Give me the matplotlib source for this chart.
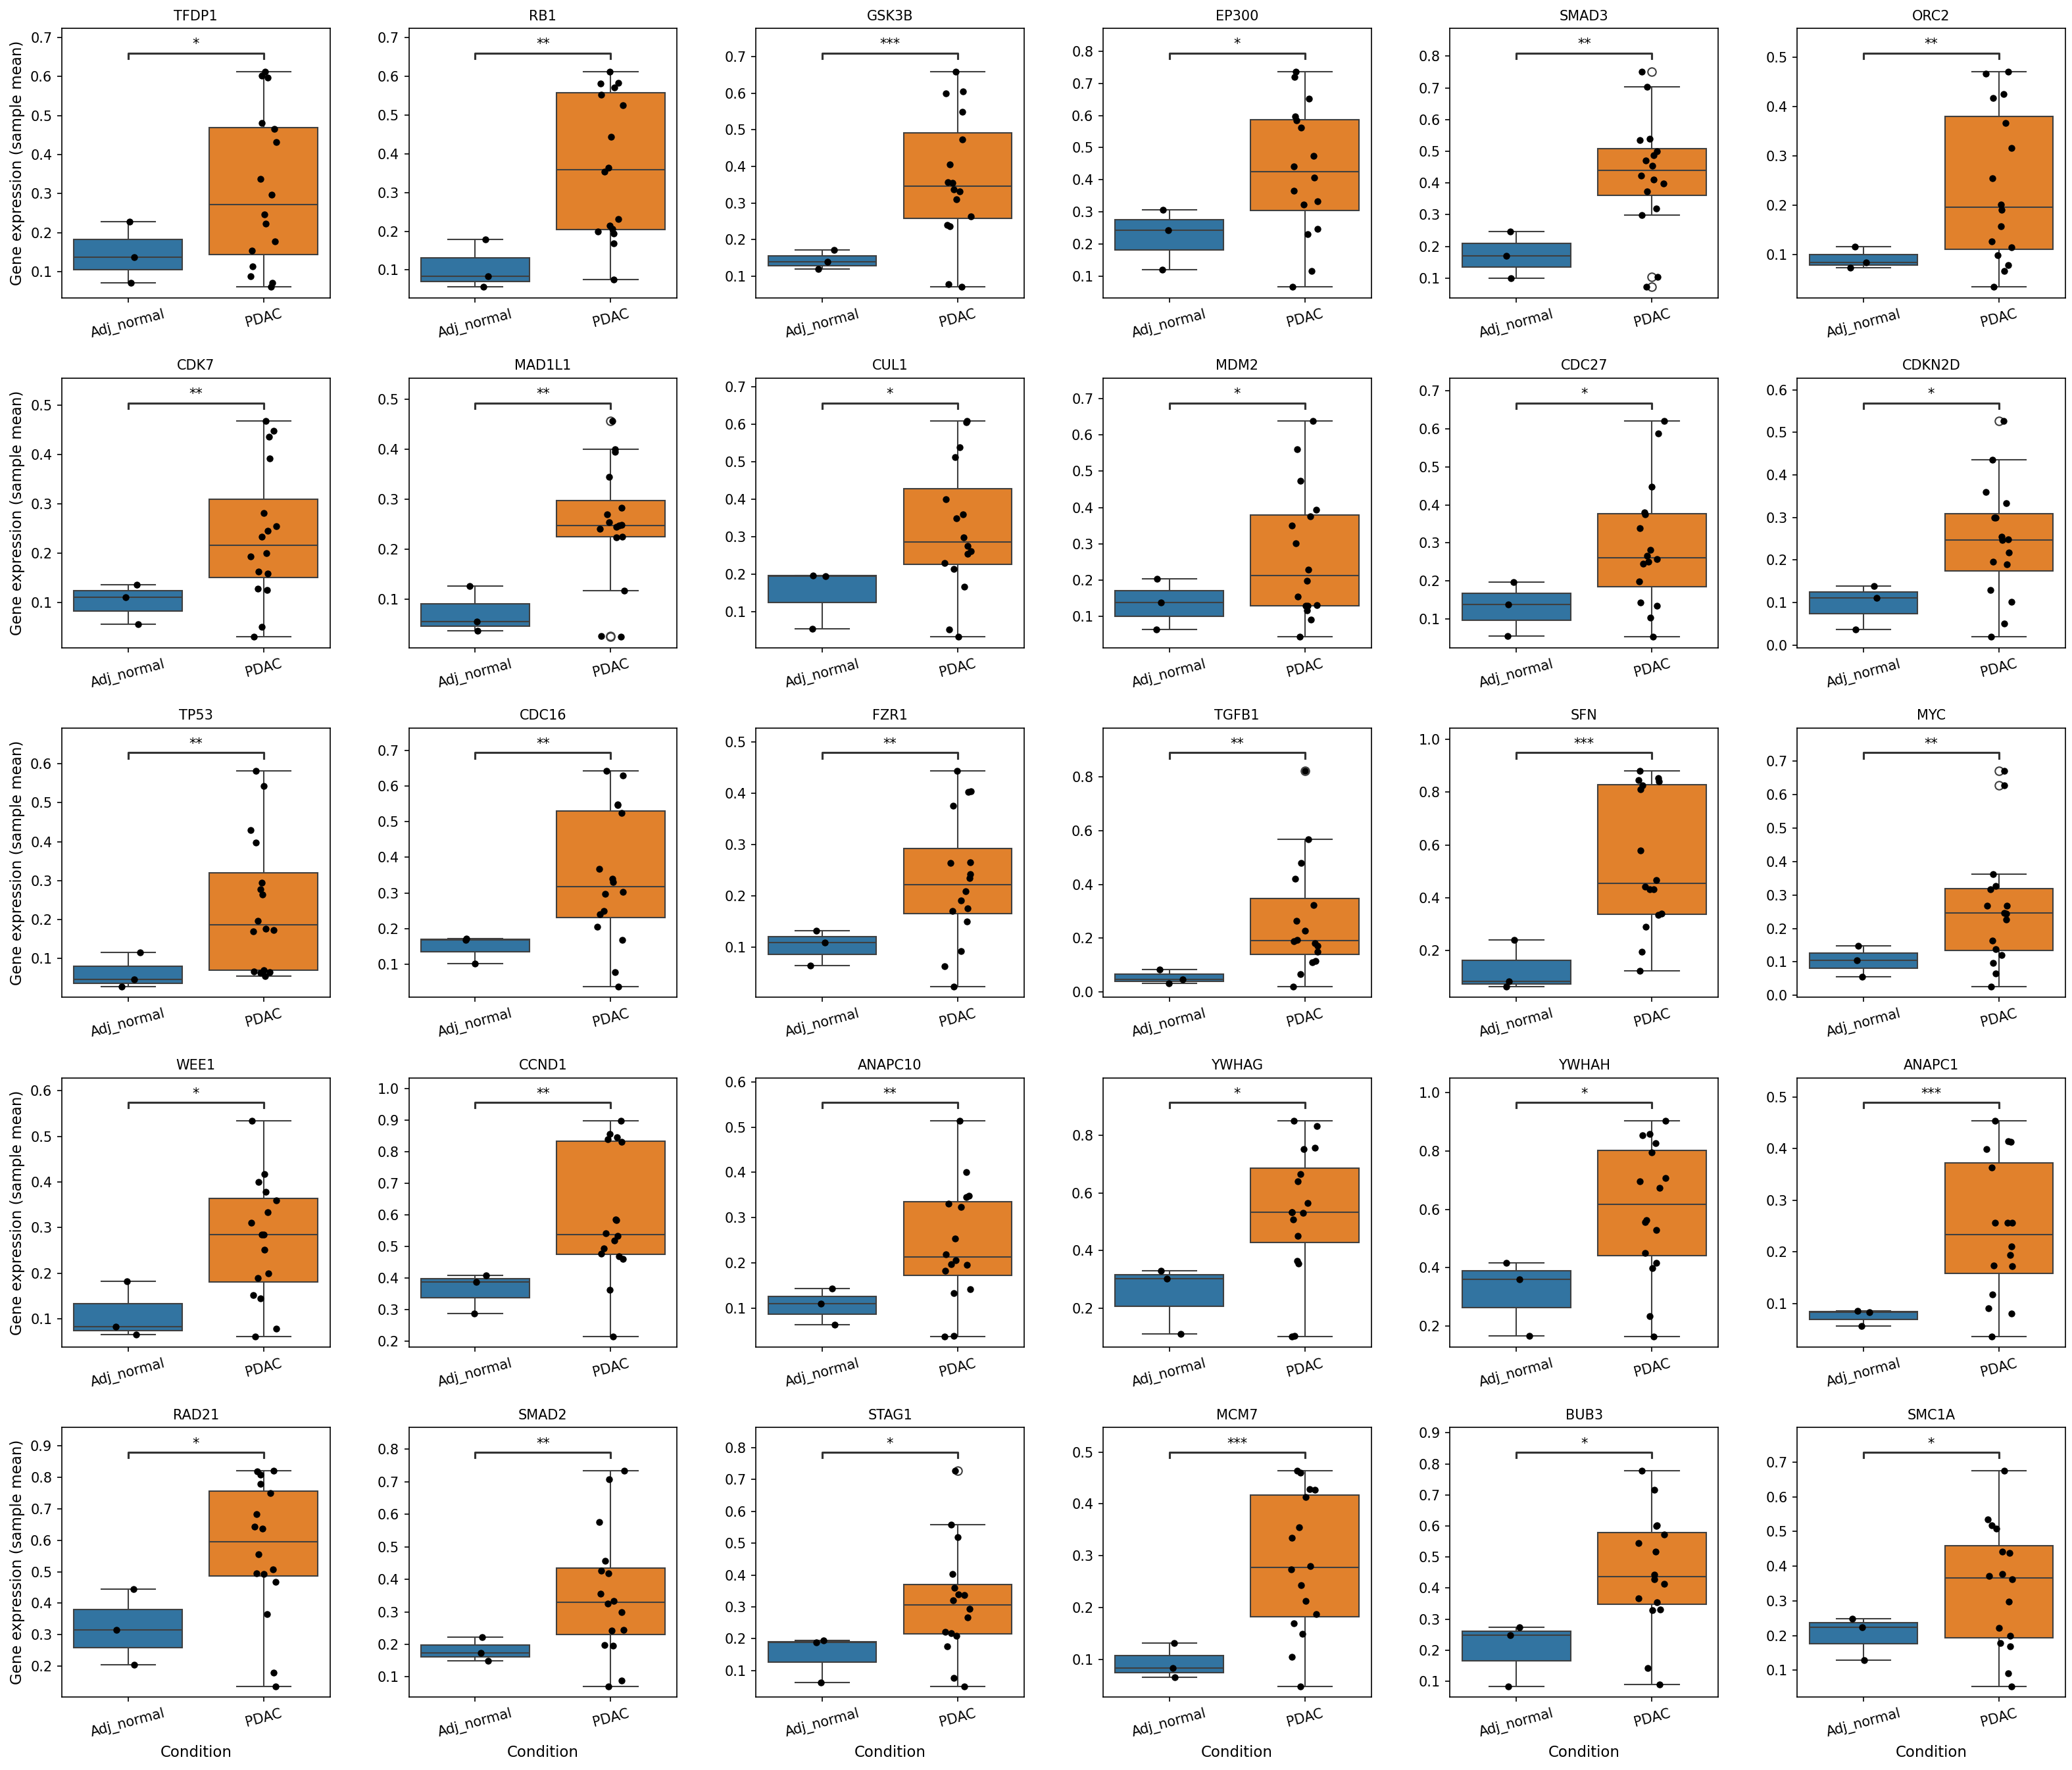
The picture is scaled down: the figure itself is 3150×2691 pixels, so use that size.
import numpy as np
import pandas as pd
import matplotlib
matplotlib.use("Agg")
import matplotlib.pyplot as plt
import seaborn as sns

genes = ["TFDP1", "RB1", "GSK3B", "EP300", "SMAD3", "ORC2",
         "CDK7", "MAD1L1", "CUL1", "MDM2", "CDC27", "CDKN2D",
         "TP53", "CDC16", "FZR1", "TGFB1", "SFN", "MYC",
         "WEE1", "CCND1", "ANAPC10", "YWHAG", "YWHAH", "ANAPC1",
         "RAD21", "SMAD2", "STAG1", "MCM7", "BUB3", "SMC1A"]

stars = ["*", "**", "***", "*", "**", "**",
         "**", "**", "*", "*", "*", "*",
         "**", "**", "**", "**", "***", "**",
         "*", "**", "**", "*", "*", "***",
         "*", "**", "*", "***", "*", "*"]

groups = ["Adj_normal", "PDAC"]

adj_normal = [
    [0.229, 0.138, 0.072], [0.178, 0.083, 0.056], [0.172, 0.139, 0.120],
    [0.307, 0.243, 0.121], [0.248, 0.170, 0.100], [0.116, 0.0835, 0.073],
    [0.137, 0.111, 0.056], [0.126, 0.055, 0.036], [0.197, 0.195, 0.055],
    [0.203, 0.138, 0.063], [0.197, 0.138, 0.055], [0.139, 0.111, 0.036],
    [0.116, 0.046, 0.028], [0.171, 0.169, 0.102], [0.132, 0.109, 0.064],
    [0.084, 0.046, 0.031], [0.241, 0.084, 0.063], [0.148, 0.105, 0.056],
    [0.182, 0.083, 0.065], [0.408, 0.387, 0.287], [0.143, 0.109, 0.063],
    [0.331, 0.303, 0.110], [0.417, 0.360, 0.166], [0.085, 0.083, 0.056],
    [0.444, 0.315, 0.204], [0.222, 0.174, 0.150], [0.194, 0.189, 0.063],
    [0.132, 0.083, 0.066], [0.273, 0.249, 0.084], [0.249, 0.224, 0.130],
]

pdac = [
    [0.613, 0.603, 0.598, 0.481, 0.466, 0.432, 0.338, 0.297, 0.247, 0.223, 0.178, 0.155, 0.114, 0.089, 0.071, 0.061],
    [0.612, 0.583, 0.580, 0.571, 0.552, 0.524, 0.444, 0.364, 0.354, 0.232, 0.215, 0.206, 0.200, 0.194, 0.169, 0.075],
    [0.659, 0.605, 0.600, 0.549, 0.473, 0.406, 0.357, 0.355, 0.337, 0.332, 0.311, 0.264, 0.240, 0.237, 0.078, 0.071],
    [0.737, 0.720, 0.652, 0.598, 0.584, 0.562, 0.474, 0.442, 0.407, 0.366, 0.333, 0.323, 0.247, 0.231, 0.116, 0.066],
    [0.752, 0.703, 0.540, 0.536, 0.500, 0.488, 0.472, 0.455, 0.423, 0.410, 0.399, 0.374, 0.320, 0.299, 0.103, 0.072],
    [0.471, 0.466, 0.425, 0.417, 0.367, 0.316, 0.255, 0.201, 0.190, 0.157, 0.126, 0.114, 0.098, 0.078, 0.066, 0.034],
    [0.467, 0.448, 0.436, 0.392, 0.281, 0.255, 0.245, 0.233, 0.200, 0.194, 0.163, 0.159, 0.128, 0.126, 0.051, 0.031],
    [0.456, 0.400, 0.395, 0.345, 0.282, 0.270, 0.254, 0.248, 0.247, 0.244, 0.240, 0.225, 0.223, 0.116, 0.026, 0.024],
    [0.608, 0.605, 0.538, 0.512, 0.400, 0.359, 0.350, 0.298, 0.275, 0.261, 0.254, 0.230, 0.214, 0.166, 0.052, 0.033],
    [0.638, 0.560, 0.473, 0.394, 0.375, 0.350, 0.302, 0.228, 0.198, 0.154, 0.131, 0.129, 0.128, 0.116, 0.090, 0.043],
    [0.620, 0.588, 0.447, 0.381, 0.376, 0.338, 0.281, 0.266, 0.257, 0.251, 0.246, 0.199, 0.144, 0.135, 0.103, 0.053],
    [0.526, 0.436, 0.359, 0.333, 0.300, 0.300, 0.254, 0.248, 0.246, 0.218, 0.195, 0.189, 0.129, 0.102, 0.051, 0.019],
    [0.581, 0.543, 0.429, 0.397, 0.295, 0.278, 0.264, 0.197, 0.177, 0.174, 0.170, 0.071, 0.067, 0.065, 0.063, 0.055],
    [0.642, 0.630, 0.549, 0.546, 0.525, 0.367, 0.339, 0.331, 0.303, 0.297, 0.250, 0.240, 0.206, 0.168, 0.077, 0.037],
    [0.443, 0.404, 0.403, 0.376, 0.265, 0.264, 0.242, 0.235, 0.209, 0.191, 0.176, 0.170, 0.150, 0.092, 0.063, 0.023],
    [0.822, 0.567, 0.480, 0.420, 0.324, 0.265, 0.228, 0.194, 0.187, 0.182, 0.171, 0.149, 0.114, 0.111, 0.066, 0.019],
    [0.880, 0.854, 0.846, 0.840, 0.826, 0.812, 0.578, 0.466, 0.441, 0.432, 0.431, 0.339, 0.334, 0.291, 0.195, 0.124],
    [0.670, 0.627, 0.363, 0.327, 0.316, 0.268, 0.268, 0.247, 0.245, 0.227, 0.163, 0.138, 0.120, 0.096, 0.066, 0.026],
    [0.534, 0.418, 0.400, 0.378, 0.360, 0.333, 0.311, 0.284, 0.284, 0.252, 0.199, 0.190, 0.152, 0.145, 0.078, 0.061],
    [0.897, 0.855, 0.845, 0.838, 0.831, 0.585, 0.582, 0.541, 0.533, 0.519, 0.493, 0.477, 0.469, 0.460, 0.362, 0.214],
    [0.514, 0.400, 0.349, 0.345, 0.331, 0.324, 0.253, 0.219, 0.206, 0.197, 0.195, 0.182, 0.141, 0.133, 0.038, 0.037],
    [0.850, 0.832, 0.757, 0.752, 0.665, 0.640, 0.565, 0.534, 0.532, 0.531, 0.507, 0.450, 0.364, 0.355, 0.105, 0.102],
    [0.903, 0.858, 0.854, 0.826, 0.795, 0.707, 0.695, 0.674, 0.562, 0.555, 0.528, 0.449, 0.417, 0.399, 0.233, 0.164],
    [0.454, 0.414, 0.413, 0.399, 0.363, 0.257, 0.257, 0.256, 0.210, 0.194, 0.173, 0.172, 0.118, 0.091, 0.080, 0.036],
    [0.821, 0.819, 0.809, 0.779, 0.749, 0.683, 0.644, 0.636, 0.556, 0.507, 0.494, 0.492, 0.467, 0.366, 0.180, 0.136],
    [0.734, 0.707, 0.576, 0.456, 0.427, 0.418, 0.356, 0.334, 0.326, 0.299, 0.245, 0.242, 0.198, 0.195, 0.089, 0.071],
    [0.727, 0.557, 0.518, 0.403, 0.359, 0.340, 0.337, 0.321, 0.293, 0.267, 0.222, 0.218, 0.210, 0.176, 0.077, 0.051],
    [0.464, 0.460, 0.429, 0.427, 0.413, 0.355, 0.334, 0.280, 0.274, 0.243, 0.213, 0.187, 0.170, 0.149, 0.105, 0.048],
    [0.778, 0.716, 0.603, 0.600, 0.573, 0.544, 0.518, 0.444, 0.428, 0.414, 0.367, 0.355, 0.331, 0.330, 0.142, 0.089],
    [0.675, 0.534, 0.518, 0.509, 0.441, 0.439, 0.378, 0.371, 0.363, 0.297, 0.223, 0.200, 0.178, 0.170, 0.091, 0.054],
]

np.random.seed(0)  # jitter only

fig, axes = plt.subplots(5, 6, figsize=(21, 17.94), dpi=150)
fig.subplots_adjust(left=0.0298, right=0.9968, top=0.984, bottom=0.0412,
                    wspace=0.294, hspace=0.298)

for i, gene in enumerate(genes):
    ax = axes.flat[i]
    df = pd.DataFrame({
        "Condition": [groups[0]] * len(adj_normal[i]) + [groups[1]] * len(pdac[i]),
        "value": adj_normal[i] + pdac[i],
    })
    sns.boxplot(data=df, x="Condition", y="value", hue="Condition",
                order=groups, hue_order=groups, palette=["C0", "C1"],
                legend=False, ax=ax)
    sns.stripplot(data=df, x="Condition", y="value", order=groups,
                  color="black", size=5, jitter=True, ax=ax)

    lo, hi = df["value"].min(), df["value"].max()
    r = hi - lo
    y1 = hi + 0.06 * r
    y2 = hi + 0.085 * r
    ax.plot([0, 0, 1, 1], [y1, y2, y2, y1], lw=1.5, c="0.2")
    ax.text(0.5, y2 + 0.01 * r, stars[i], ha="center", va="bottom", fontsize=10)
    ax.set_ylim(lo - 0.05 * r, hi + 0.2 * r)

    ax.set_title(gene, fontsize=10)
    ax.tick_params(axis="x", labelrotation=15)
    if i % 6 == 0:
        ax.set_ylabel("Gene expression (sample mean)", fontsize=11)
    else:
        ax.set_ylabel("")
    if i >= 24:
        ax.set_xlabel("Condition", fontsize=11)
    else:
        ax.set_xlabel("")

fig.savefig("out.png", dpi=150)
